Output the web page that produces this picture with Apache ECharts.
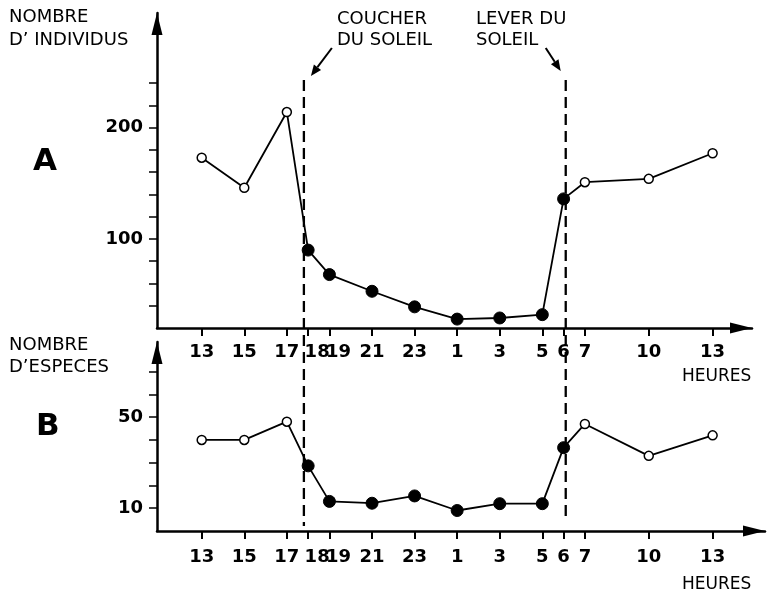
<!DOCTYPE html>
<html><head><meta charset="utf-8">
<script src="https://cdn.jsdelivr.net/npm/echarts@6/dist/echarts.min.js"></script>
<style>html,body{margin:0;padding:0;background:#fff}#c{width:767px;height:594px}</style>
</head><body><div id="c"></div>
<script>
// Hours counted continuously from 13 h (day 1) to 13 h (day 2): 25 = 1 h, 37 = 13 h
const hours = [13, 15, 17, 18, 19, 21, 23, 25, 27, 29, 30, 31, 34, 37];
const individus = [173, 146, 214, 90, 68, 53, 39, 28, 29, 32, 136, 151, 154, 177];
const especes = [40, 40, 48, 28.6, 13, 12.2, 15.4, 9, 12, 12, 36.6, 47, 33, 42];
const tickHours = [13, 15, 17, 18, 19, 21, 23, 25, 27, 29, 30, 31, 34, 37];
const crowdedHours = [18, 19];
const sunsetHour = 17.8;
const sunriseHour = 30.1;
const yTicksA = [40, 60, 80, 100, 120, 140, 160, 180, 200, 220, 240];
const yLabelsA = [100, 200];
const yTicksB = [10, 20, 30, 40, 50, 60, 70];
const yLabelsB = [10, 50];

const numFont = {fontFamily: 'DejaVu Sans', fontWeight: 'bold', fontSize: 18, color: '#000'};
const txtFont = 'DejaVu Sans';

function pts(vals) {
  return hours.map((h, i) => {
    const night = h > sunsetHour && h < sunriseHour;
    return {
      value: [h, vals[i]],
      symbolSize: night ? 12 : 9,
      itemStyle: night ? {color: '#000', borderColor: '#000', borderWidth: 1}
                       : {color: '#fff', borderColor: '#000', borderWidth: 1.5}
    };
  });
}
function hourLabel(v) {
  const s = String(v > 24 ? v - 24 : v);
  return crowdedHours.indexOf(v) >= 0 ? '{s|' + s + '}' : s;
}

function xAxisCfg(idx, max, margin) {
  return {
    type: 'value', gridIndex: idx, min: 10.9, max: max,
    axisLine: {onZero: false, lineStyle: {color: '#000', width: 2.5}},
    axisTick: {show: true, customValues: tickHours, length: 8, lineStyle: {color: '#000', width: 2}},
    axisLabel: Object.assign({
      customValues: tickHours, margin: margin, formatter: hourLabel,
      rich: {s: Object.assign({padding: [0, 0, 0, 18]}, numFont)}
    }, numFont),
    splitLine: {show: false}
  };
}
function yAxisCfg(idx, min, max, ticks, labels) {
  return {
    type: 'value', gridIndex: idx, min: min, max: max,
    axisLine: {show: true, onZero: false, lineStyle: {color: '#000', width: 2.5}},
    axisTick: {show: true, customValues: ticks, length: 8, lineStyle: {color: '#000', width: 1.5}},
    axisLabel: Object.assign({customValues: labels, margin: 14}, numFont),
    splitLine: {show: false}
  };
}

const xMaxA = 38.85, xMaxB = 39.46, yMaxA = 303, yMaxB = 83;
const chart = echarts.init(document.getElementById('c'), null, {renderer: 'canvas'});
chart.setOption({
  animation: false,
  backgroundColor: '#fff',
  grid: [
    {left: 157, right: 15, top: 13, bottom: 266},
    {left: 157, right: 2, top: 342, bottom: 63}
  ],
  xAxis: [xAxisCfg(0, xMaxA, 15), xAxisCfg(1, xMaxB, 17)],
  yAxis: [yAxisCfg(0, 20, yMaxA, yTicksA, yLabelsA), yAxisCfg(1, 0, yMaxB, yTicksB, yLabelsB)],
  series: [
    {type: 'line', xAxisIndex: 0, yAxisIndex: 0, data: pts(individus), symbol: 'circle',
     lineStyle: {color: '#000', width: 1.8}, z: 5},
    {type: 'line', xAxisIndex: 1, yAxisIndex: 1, data: pts(especes), symbol: 'circle',
     lineStyle: {color: '#000', width: 1.8}, z: 5}
  ]
});

const xs = chart.convertToPixel({xAxisIndex: 0}, sunsetHour);
const xr = chart.convertToPixel({xAxisIndex: 0}, sunriseHour);
const dash = {stroke: '#000', lineWidth: 2.3, lineDash: [11, 6]};
const txt = (x, y, s, size, weight) => ({
  type: 'text', x: x, y: y,
  style: {text: s, fill: '#000', font: (weight || 'normal') + ' ' + size + 'px "' + txtFont + '"', verticalAlign: 'middle'}
});
function arrow(x1, y1, x2, y2) {
  const a = Math.atan2(y2 - y1, x2 - x1), L = 11, W = 4.5;
  const bx = x2 - L * Math.cos(a), by = y2 - L * Math.sin(a);
  const nx = -Math.sin(a) * W, ny = Math.cos(a) * W;
  return [
    {type: 'line', shape: {x1: x1, y1: y1, x2: bx, y2: by}, style: {stroke: '#000', lineWidth: 2}},
    {type: 'polygon', shape: {points: [[x2, y2], [bx + nx, by + ny], [bx - nx, by - ny]]}, style: {fill: '#000'}}
  ];
}
function axisHead(tip, dir) {
  // dir: 'up' or 'right'; filled elongated triangle at the axis end
  const L = 22, W = 5.5;
  const p = dir === 'up'
    ? [[tip[0], tip[1]], [tip[0] - W, tip[1] + L], [tip[0] + W, tip[1] + L]]
    : [[tip[0], tip[1]], [tip[0] - L, tip[1] - W], [tip[0] - L, tip[1] + W]];
  return {type: 'polygon', shape: {points: p}, style: {fill: '#000'}, z: 10};
}
const yA0 = chart.convertToPixel({xAxisIndex: 0, yAxisIndex: 0}, [10.9, yMaxA]);
const xA0 = chart.convertToPixel({xAxisIndex: 0, yAxisIndex: 0}, [xMaxA, 20]);
const yB0 = chart.convertToPixel({xAxisIndex: 1, yAxisIndex: 1}, [10.9, yMaxB]);
const xB0 = chart.convertToPixel({xAxisIndex: 1, yAxisIndex: 1}, [xMaxB, 0]);

chart.setOption({
  graphic: [
    {type: 'line', shape: {x1: xs, y1: 80, x2: xs, y2: 526}, style: dash, z: 1},
    {type: 'line', shape: {x1: xr, y1: 80, x2: xr, y2: 522}, style: dash, z: 1},
    axisHead(yA0, 'up'), axisHead(xA0, 'right'), axisHead(yB0, 'up'), axisHead(xB0, 'right'),
    ...arrow(xs + 28, 48, xs + 7, 76),
    ...arrow(xr - 20, 48, xr - 5, 71),
    txt(337, 19, 'COUCHER', 18),
    txt(337, 40, 'DU SOLEIL', 18),
    txt(476, 19, 'LEVER DU', 18),
    txt(476, 40, 'SOLEIL', 18),
    txt(9, 17, 'NOMBRE', 18),
    txt(9, 40, 'D\u2019 INDIVIDUS', 18),
    txt(9, 345, 'NOMBRE', 18),
    txt(9, 367, 'D\u2019ESPECES', 18),
    txt(33, 162, 'A', 31, 'bold'),
    txt(36, 427, 'B', 31, 'bold'),
    txt(682, 377, 'HEURES', 17),
    txt(682, 585, 'HEURES', 17)
  ]
});
</script>
</body></html>
